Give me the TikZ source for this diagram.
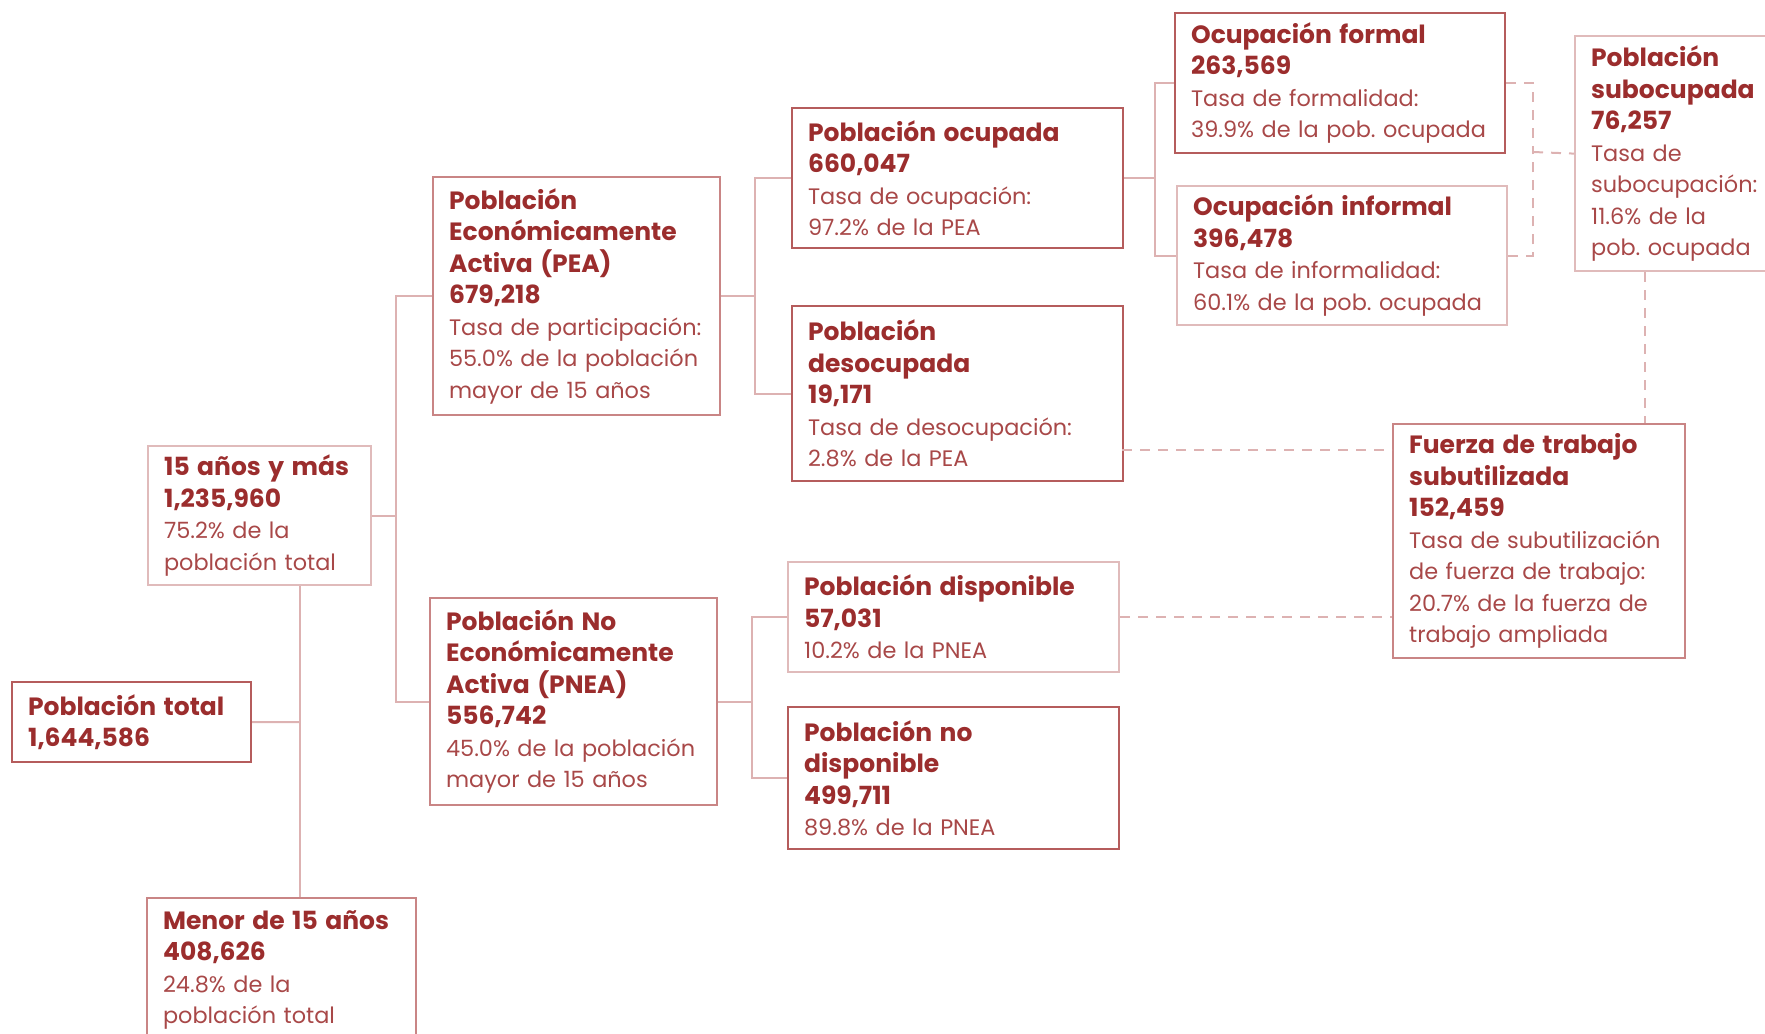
\documentclass[tikz,border=0pt]{standalone}
\usepackage{fontspec}
\setmainfont{Poppins}
\usepackage{tikz}
\frenchspacing

\definecolor{titred}{HTML}{9B2D2D}
\definecolor{txtred}{HTML}{A84848}
\definecolor{bordark}{HTML}{B55C5C}
\definecolor{bormedia}{HTML}{C98585}
\definecolor{borclaro}{HTML}{E0BBBB}
\definecolor{linea}{HTML}{DDB2B2}
\newcommand{\cifra}[1]{\textcolor{titred}{\fontsize{12.5}{15.75}\selectfont\bfseries #1}}

\begin{document}
\begin{tikzpicture}[x=0.5pt,y=-0.5pt,
  caja/.style={draw=bordark, line width=1.1pt, anchor=north west, align=left,
    inner xsep=8pt, inner ysep=3pt, text=txtred, font=\fontsize{11.2}{15.75}\selectfont},
  media/.style={caja, draw=bormedia},
  clara/.style={caja, draw=borclaro},
  rama/.style={draw=linea, line width=1pt},
  punteada/.style={rama, dash pattern=on 5pt off 4pt}]
\clip (0,0) rectangle (1765,1033);

\node[caja, text width=103.5pt, minimum height=40pt] (total) at (11,681)
  {\cifra{Población total}\\ \cifra{1,644,586}};
\node[clara, text width=95.5pt, minimum height=69.5pt] (mas15) at (147,445)
  {\cifra{15 años y más}\\ \cifra{1,235,960}\\ 75.2\% de la\\ población total};
\node[media, text width=118.5pt, minimum height=72pt] (menor) at (146,897)
  {\cifra{Menor de 15 años}\\ \cifra{408,626}\\ 24.8\% de la\\ población total};

\node[media, text width=127.5pt, minimum height=119pt] (pea) at (432,176)
  {\cifra{Población}\\ \cifra{Económicamente}\\ \cifra{Activa (PEA)}\\ \cifra{679,218}\\
   Tasa de participación:\\ 55.0\% de la población\\ mayor de 15 años};
\node[media, text width=127.5pt, minimum height=103.5pt] (pnea) at (429,597)
  {\cifra{Población No}\\ \cifra{Económicamente}\\ \cifra{Activa (PNEA)}\\ \cifra{556,742}\\
   45.0\% de la población\\ mayor de 15 años};

\node[caja, text width=149.5pt, minimum height=70pt] (ocup) at (791,107)
  {\cifra{Población ocupada}\\ \cifra{660,047}\\ Tasa de ocupación:\\ 97.2\% de la PEA};
\node[caja, text width=149.5pt, minimum height=87.5pt] (desoc) at (791,305)
  {\cifra{Población}\\ \cifra{desocupada}\\ \cifra{19,171}\\ Tasa de desocupación:\\ 2.8\% de la PEA};
\node[clara, text width=149.5pt, minimum height=55pt] (dispo) at (787,561)
  {\cifra{Población disponible}\\ \cifra{57,031}\\ 10.2\% de la PNEA};
\node[caja, text width=149.5pt, minimum height=71pt] (nodisp) at (787,706)
  {\cifra{Población no}\\ \cifra{disponible}\\ \cifra{499,711}\\ 89.8\% de la PNEA};

\node[caja, text width=149pt, minimum height=70pt] (formal) at (1174,12)
  {\cifra{Ocupación formal}\\ \cifra{263,569}\\ Tasa de formalidad:\\ 39.9\% de la pob. ocupada};
\node[clara, text width=149pt, minimum height=69.5pt] (informal) at (1176,185)
  {\cifra{Ocupación informal}\\ \cifra{396,478}\\ Tasa de informalidad:\\ 60.1\% de la pob. ocupada};
\node[clara, text width=84.5pt, minimum height=117.5pt] (subocup) at (1574,35)
  {\cifra{Población}\\ \cifra{subocupada}\\ \cifra{76,257}\\ Tasa de\\ subocupación:\\ 11.6\% de la\\ pob. ocupada};
\node[media, text width=130pt, minimum height=117pt] (fuerza) at (1392,423)
  {\cifra{Fuerza de trabajo}\\ \cifra{subutilizada}\\ \cifra{152,459}\\ Tasa de subutilización\\
   de fuerza de trabajo:\\ 20.7\% de la fuerza de\\ trabajo ampliada};

\coordinate (j1) at (300,722);
\draw[rama] (total.east) -- (j1);
\draw[rama] (mas15.south -| j1) -- (menor.north -| j1);
\draw[rama] (mas15.east) -- ++(24,0) coordinate (j2);
\draw[rama] (pea.west) -| (j2) |- (pnea.west);
\draw[rama] (pea.east) -- ++(34,0) coordinate (j3);
\draw[rama] (ocup.west) -| (j3) |- (desoc.west);
\draw[rama] (pnea.east) -- ++(34,0) coordinate (j4);
\draw[rama] (dispo.west) -| (j4) |- (nodisp.west);
\draw[rama] (ocup.east) -- ++(31,0) coordinate (j5);
\draw[rama] (formal.west) -| (j5) |- (informal.west);

\coordinate (j6) at (1533,152);
\draw[punteada] (formal.east) -| (j6);
\draw[punteada] (informal.east) -| (j6);
\draw[punteada] (j6) -- (subocup.west);
\coordinate (j7) at (1645,0);
\draw[punteada] (subocup.south -| j7) -- (fuerza.north -| j7);
\coordinate (d1) at (1122,450);
\draw[punteada] (d1) -- (d1 -| fuerza.west);
\draw[punteada] (dispo.east) -- (dispo.east -| fuerza.west);
\end{tikzpicture}
\end{document}
